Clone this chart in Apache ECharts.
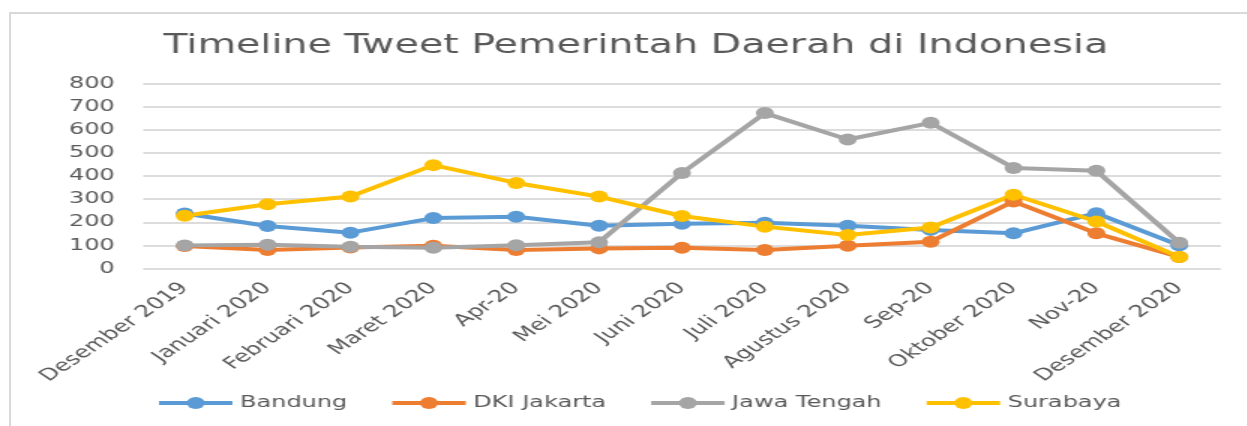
<!DOCTYPE html>
<html>
<head>
<meta charset="utf-8">
<script src="https://cdn.jsdelivr.net/npm/echarts@6/dist/echarts.min.js"></script>
<style>
  html, body { margin: 0; padding: 0; background: #fff; overflow: hidden; }
  .frame {
    position: absolute; left: 9px; top: 12px; width: 1400px; height: 600px;
    border-left: 2px solid #d9d9d9; border-top: 2px solid #d9d9d9;
  }
  /* reference picture is stretched sideways, so the chart is drawn narrow and widened */
  #chart {
    position: absolute; left: 0; top: 0; width: 831px; height: 426px;
    transform: scaleX(1.5); transform-origin: 0 0;
  }
</style>
</head>
<body>
<div class="frame"></div>
<div id="chart"></div>
<script>
  const months = ['Desember 2019', 'Januari 2020', 'Februari 2020', 'Maret 2020', 'Apr-20', 'Mei 2020',
    'Juni 2020', 'Juli 2020', 'Agustus 2020', 'Sep-20', 'Oktober 2020', 'Nov-20', 'Desember 2020']
  const bandung = [238, 184, 155, 218, 224, 185, 193, 198, 185, 167, 152, 239, 101]
  const dkiJakarta = [97, 80, 91, 98, 80, 87, 90, 80, 98, 116, 290, 152, 50]
  const jawaTengah = [100, 103, 94, 90, 101, 113, 413, 672, 558, 630, 435, 423, 111]
  const surabaya = [228, 278, 311, 447, 370, 311, 227, 181, 145, 177, 319, 203, 50]
  const yTicks = [0, 100, 200, 300, 400, 500, 600, 700, 800]

  const textColor = '#595959'
  const font = 'DejaVu Sans'

  const chart = echarts.init(document.getElementById('chart'))

  const makeLine = (name, data, color) => ({
    name,
    type: 'line',
    data,
    symbol: 'circle',
    symbolSize: 12,
    lineStyle: { width: 4, color },
    itemStyle: { color },
    emphasis: { disabled: true }
  })

  const option = {
    animation: false,
    title: {
      text: 'Timeline Tweet Pemerintah Daerah di Indonesia',
      left: 109,
      top: 33,
      padding: 0,
      textStyle: { fontFamily: font, fontSize: 26.4, fontWeight: 'normal', color: textColor }
    },
    legend: {
      left: 104,
      top: 395,
      padding: 0,
      itemWidth: 49,
      itemHeight: 15,
      itemGap: 28,
      lineStyle: { width: 4 },
      textStyle: { fontFamily: font, fontSize: 16, color: textColor }
    },
    grid: { left: 95.5, right: 17.2, top: 83.5, height: 185 },
    xAxis: {
      type: 'category',
      data: months,
      boundaryGap: true,
      axisLine: { show: false },
      axisTick: { show: false },
      axisLabel: { interval: 0, rotate: 45, margin: 17, fontFamily: font, fontSize: 16.5, color: textColor }
    },
    yAxis: {
      type: 'value',
      min: yTicks[0],
      max: yTicks[yTicks.length - 1],
      interval: 100,
      axisLine: { show: false },
      axisTick: { show: false },
      axisLabel: { margin: 19, fontFamily: font, fontSize: 16, color: textColor },
      splitLine: { lineStyle: { color: '#dcdcdc', width: 2 } }
    },
    series: [
      makeLine('Bandung', bandung, '#5B9BD5'),
      makeLine('DKI Jakarta', dkiJakarta, '#ED7D31'),
      makeLine('Jawa Tengah', jawaTengah, '#A5A5A5'),
      makeLine('Surabaya', surabaya, '#FFC000')
    ]
  }

  chart.setOption(option)
</script>
</body>
</html>
